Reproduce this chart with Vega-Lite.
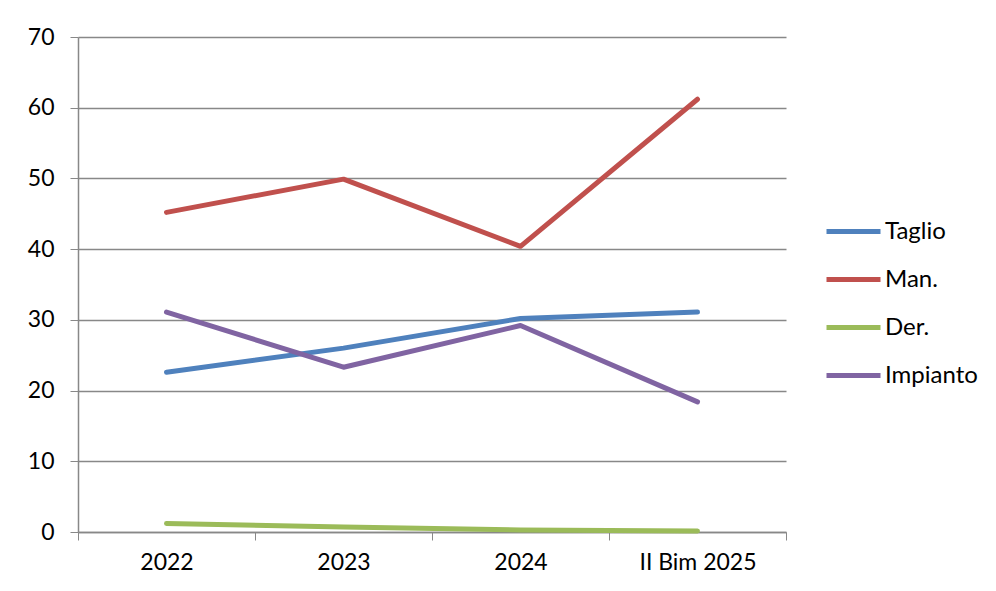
{
  "$schema": "https://vega.github.io/schema/vega-lite/v6.json",
  "width": 708,
  "height": 495,
  "autosize": "none",
  "padding": {"left": 78, "top": 37, "right": 210, "bottom": 59},
  "background": "white",
  "config": {
    "view": {"stroke": null},
    "font": "Lato"
  },
  "data": {
    "values": [
      {"period": "2022", "series": "Taglio", "value": 22.6},
      {"period": "2023", "series": "Taglio", "value": 26.0},
      {"period": "2024", "series": "Taglio", "value": 30.2},
      {"period": "II Bim 2025", "series": "Taglio", "value": 31.1},
      {"period": "2022", "series": "Man.", "value": 45.2},
      {"period": "2023", "series": "Man.", "value": 49.9},
      {"period": "2024", "series": "Man.", "value": 40.4},
      {"period": "II Bim 2025", "series": "Man.", "value": 61.2},
      {"period": "2022", "series": "Der.", "value": 1.2},
      {"period": "2023", "series": "Der.", "value": 0.7},
      {"period": "2024", "series": "Der.", "value": 0.3},
      {"period": "II Bim 2025", "series": "Der.", "value": 0.15},
      {"period": "2022", "series": "Impianto", "value": 31.1},
      {"period": "2023", "series": "Impianto", "value": 23.3},
      {"period": "2024", "series": "Impianto", "value": 29.2},
      {"period": "II Bim 2025", "series": "Impianto", "value": 18.4}
    ]
  },
  "mark": {"type": "line", "strokeWidth": 5, "strokeCap": "round", "strokeJoin": "round"},
  "encoding": {
    "x": {
      "field": "period",
      "type": "nominal",
      "sort": ["2022", "2023", "2024", "II Bim 2025"],
      "bandPosition": 0.5,
      "scale": {"type": "band", "paddingInner": 0, "paddingOuter": 0},
      "axis": {
        "title": null,
        "labelAngle": 0,
        "labelFontSize": 23,
        "labelColor": "#000000",
        "labelPadding": 11,
        "tickBand": "extent",
        "tickSize": 8,
        "tickColor": "#888888",
        "domainColor": "#888888",
        "domainWidth": 1.5,
        "grid": false
      }
    },
    "y": {
      "field": "value",
      "type": "quantitative",
      "scale": {"domain": [0, 70], "nice": false},
      "axis": {
        "title": null,
        "values": [0, 10, 20, 30, 40, 50, 60, 70],
        "labelFontSize": 23,
        "labelColor": "#000000",
        "labelPadding": 16,
        "tickSize": 8,
        "tickColor": "#888888",
        "domainColor": "#888888",
        "domainWidth": 1.5,
        "gridColor": "#888888",
        "gridWidth": 1.5
      }
    },
    "color": {
      "field": "series",
      "type": "nominal",
      "scale": {
        "domain": ["Taglio", "Man.", "Der.", "Impianto"],
        "range": ["#4F81BD", "#C0504D", "#9BBB59", "#8064A2"]
      },
      "legend": {
        "title": null,
        "orient": "none",
        "legendX": 746,
        "legendY": 165,
        "padding": 0,
        "symbolType": "stroke",
        "symbolSize": 2916,
        "symbolStrokeWidth": 5,
        "labelFontSize": 24,
        "labelColor": "#000000",
        "labelOffset": 2,
        "rowPadding": 6
      }
    }
  }
}
